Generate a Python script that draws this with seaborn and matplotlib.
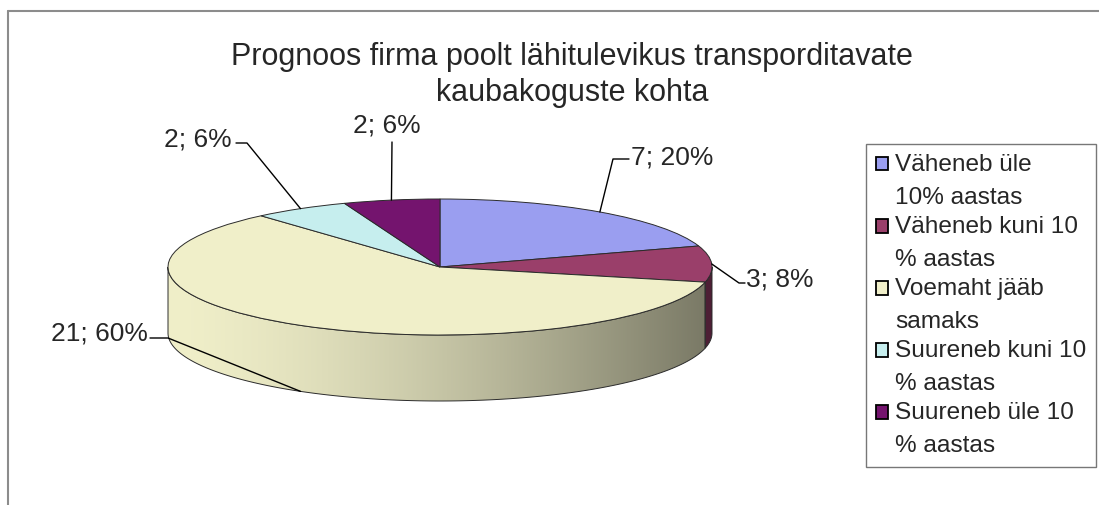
import numpy as np
import matplotlib
matplotlib.use('Agg')
import matplotlib.pyplot as plt
import seaborn as sns
from matplotlib.colors import to_rgb
from matplotlib.patches import Polygon, Patch, Rectangle
from matplotlib.lines import Line2D
from matplotlib.legend_handler import HandlerPatch

# --- data ---
categories = ['Väheneb üle\n10% aastas', 'Väheneb kuni 10\n% aastas', 'Voemaht jääb\nsamaks',
              'Suureneb kuni 10\n% aastas', 'Suureneb üle 10\n% aastas']
counts = [7, 3, 21, 2, 2]
percents = [20, 8, 60, 6, 6]          # as printed on the chart
title = 'Prognoos firma poolt lähitulevikus transporditavate\nkaubakoguste kohta'

top_colors = ['#9a9ef0', '#9a3f6a', '#f0efc9', '#c6eeee', '#74146e']

sns.set_theme(style='white')
plt.rcParams['font.family'] = ['Liberation Sans', 'DejaVu Sans']

W, H = 1099, 505
cx, cy, rx, ry = 440, 267, 272, 68    # pie centre and radii in pixels
depth = 66 / ry                        # pie thickness in data units

fig = plt.figure(figsize=(W / 100, H / 100), dpi=100)
ax = fig.add_axes([0, 0, 1, 1])

wedges, _ = ax.pie(counts, colors=top_colors, startangle=90, counterclock=False, radius=1,
                   wedgeprops=dict(edgecolor='#2b2b2b', linewidth=0.7))
for w in wedges:
    w.set_zorder(3)

ax.set_aspect('auto')
ax.axis('off')


def px(x, y):
    return (x - cx) / rx, (cy - y) / ry


# --- front side of the pie with left-to-right shading ---
xs = np.linspace(-1, 1, 300)
shade = 1 - 0.5 * ((xs + 1) / 2) ** 1.5
for w, col in zip(wedges, top_colors):
    for k in (-360, 0, 360):
        a, b = max(w.theta1 + k, 180), min(w.theta2 + k, 360)
        if a >= b:
            continue
        t = np.radians(np.linspace(a, b, 200))
        top = np.column_stack([np.cos(t), np.sin(t)])
        bot = np.column_stack([np.cos(t), np.sin(t) - depth])[::-1]
        poly = Polygon(np.vstack([top, bot]), closed=True, facecolor='none',
                       edgecolor='#2b2b2b', linewidth=0.7, zorder=2)
        ax.add_patch(poly)
        img = (np.array(to_rgb(col))[None, :] * shade[:, None])[None, :, :]
        im = ax.imshow(img, extent=(-1, 1, -1 - depth, 1), aspect='auto', zorder=1.5)
        im.set_clip_path(poly)

ax.set_xlim(-cx / rx, (W - cx) / rx)
ax.set_ylim(-(H - cy) / ry, cy / ry)

# --- data labels with leader lines ---
label_pos = [(631, 157, 'left'), (746, 280, 'left'), (148, 334, 'right'),
             (232, 139, 'right'), (387, 126, 'center')]
elbows = [(613, 159), (739, 283), (168, 338), (247, 143), (392, 142)]
tails = [(629, 159), (745, 283), (150, 338), (236, 143), (392, 142)]

for w, n, p, (tx, ty, ha), el, tl in zip(wedges, counts, percents, label_pos, elbows, tails):
    m = np.radians((w.theta1 + w.theta2) / 2)
    ax_, ay_ = np.cos(m), np.sin(m)
    if ay_ < 0:
        ay_ -= depth
    ex, ey = px(*el)
    lx, ly = px(*tl)
    ax.add_line(Line2D([ax_, ex, lx], [ay_, ey, ly], color='black', lw=1.0, zorder=5))
    ax.text(*px(tx, ty), f'{n}; {p}%', ha=ha, va='center', fontsize=19, zorder=6)

# --- title ---
fig.text(572 / W, 1 - 75 / H, title, ha='center', va='center', fontsize=22,
         linespacing=1.3)


# --- legend: small square aligned with the first text line ---
def top_square(legend, orig_handle, xdescent, ydescent, width, height, fontsize):
    return Rectangle((-xdescent, -ydescent + 0.72 * fontsize), width, height)


handles = [Patch(facecolor=c, edgecolor='black', linewidth=1.3) for c in top_colors]
leg = fig.legend(handles, categories, loc='upper left', bbox_to_anchor=(866 / W, 1 - 144 / H),
                 fontsize=17.6, frameon=True, fancybox=False, edgecolor='#555555',
                 handlelength=0.5, handleheight=0.5, handletextpad=0.28,
                 borderpad=0.4, labelspacing=0.29, borderaxespad=0,
                 handler_map={Patch: HandlerPatch(patch_func=top_square)})
leg.get_frame().set_linewidth(1.0)
for txt in leg.get_texts():
    txt.set_linespacing(1.65)

# --- chart area border (top and left) ---
fig.add_artist(Line2D([8 / W, 1], [1 - 11 / H, 1 - 11 / H], color='#8c8c8c', lw=1.5))
fig.add_artist(Line2D([8 / W, 8 / W], [0, 1 - 11 / H], color='#8c8c8c', lw=1.5))

fig.savefig('out.png', dpi=100)
